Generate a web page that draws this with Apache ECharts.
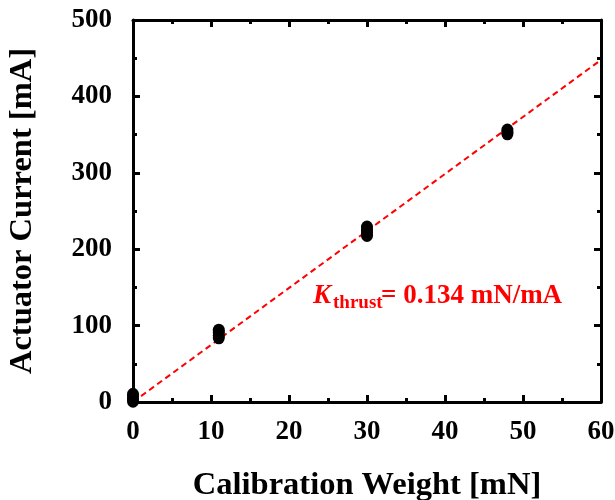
<!DOCTYPE html>
<html>
<head>
<meta charset="utf-8">
<script src="https://cdn.jsdelivr.net/npm/echarts@6/dist/echarts.min.js"></script>
<style>
html, body { margin: 0; padding: 0; background: #fff; }
#main { width: 615px; height: 500px; }
</style>
</head>
<body>
<div id="main"></div>
<script>
// calibration points: weight [mN], current [mA]
var weights = [0, 0, 0, 0, 11, 11, 11, 11, 30, 30, 30, 30, 48, 48, 48];
var currents = [1, 4, 7, 10, 84, 87, 91, 94, 218, 222, 225, 229, 351, 353, 356];
var fitX = [0, 60];
var fitY = [0, 447.8]; // slope 1/0.134
var xTicks = [0, 10, 20, 30, 40, 50, 60];
var yTicks = [0, 100, 200, 300, 400, 500];

var pts = weights.map(function (w, i) { return [w, currents[i]]; });
var fit = fitX.map(function (x, i) { return [x, fitY[i]]; });

var font = 'Liberation Serif, Times New Roman, serif';
var red = '#ff0000';
var chart = echarts.init(document.getElementById('main'));

function axisCommon() {
	return {
		axisLine: { show: true, onZero: false, lineStyle: { color: '#000', width: 3 } },
		axisTick: { show: true, inside: true, length: 7, lineStyle: { color: '#000', width: 3 } },
		minorTick: { show: true, splitNumber: 2, length: 4, lineStyle: { color: '#000', width: 3 } },
		splitLine: { show: false }
	};
}

var labelStyle = { fontFamily: font, fontWeight: 'bold', fontSize: 27, color: '#000' };
var nameStyle = { fontFamily: font, fontWeight: 'bold', fontSize: 32.5, color: '#000' };

var xBottom = Object.assign(axisCommon(), {
	type: 'value', min: 0, max: 60, interval: 10, position: 'bottom',
	name: 'Calibration Weight [mN]', nameLocation: 'middle', nameGap: 67,
	nameTextStyle: nameStyle,
	axisLabel: Object.assign({ margin: 17 }, labelStyle)
});
var xTop = Object.assign(axisCommon(), {
	type: 'value', min: 0, max: 60, interval: 10, position: 'top',
	axisLabel: { show: false }
});
var yLeft = Object.assign(axisCommon(), {
	type: 'value', min: 0, max: 500, interval: 100, position: 'left',
	name: 'Actuator Current [mA]', nameLocation: 'middle', nameGap: 94,
	nameTextStyle: nameStyle,
	axisLabel: Object.assign({ margin: 21 }, labelStyle)
});
var yRight = Object.assign(axisCommon(), {
	type: 'value', min: 0, max: 500, interval: 100, position: 'right',
	axisLabel: { show: false }
});

chart.setOption({
	animation: false,
	backgroundColor: '#fff',
	grid: { left: 133, right: 14, top: 20, bottom: 98, containLabel: false, outerBoundsMode: 'none' },
	xAxis: [xBottom, xTop],
	yAxis: [yLeft, yRight],
	series: [
		{
			type: 'line',
			data: fit,
			symbol: 'none',
			lineStyle: { color: red, width: 2, type: [6, 4] },
			z: 2
		},
		{
			type: 'scatter',
			data: pts,
			symbol: 'circle',
			symbolSize: [12, 13],
			itemStyle: { color: '#000', opacity: 1 },
			z: 3
		}
	],
	graphic: [
		{
			type: 'text', x: 313, y: 296,
			style: { text: 'K', fontFamily: font, fontWeight: 'bold', fontStyle: 'italic', fontSize: 27, fill: red, verticalAlign: 'middle' }
		},
		{
			type: 'text', x: 333, y: 303,
			style: { text: 'thrust', fontFamily: font, fontWeight: 'bold', fontSize: 19, fill: red, verticalAlign: 'middle' }
		},
		{
			type: 'text', x: 381, y: 296,
			style: { text: '= 0.134 mN/mA', fontFamily: font, fontWeight: 'bold', fontSize: 27, fill: red, verticalAlign: 'middle' }
		}
	]
});
</script>
</body>
</html>
